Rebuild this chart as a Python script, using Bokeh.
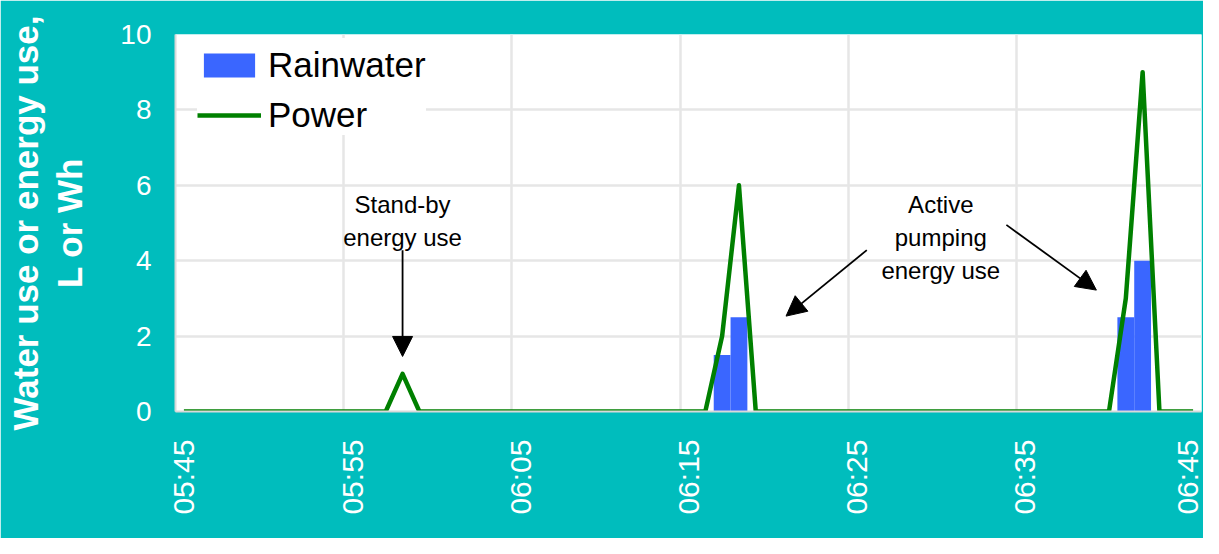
from bokeh.plotting import figure
from bokeh.models import (Range1d, FixedTicker, Legend, LegendItem, Arrow, NormalHead, Label)
from bokeh.embed import file_html
from bokeh.resources import INLINE

# ---- data -------------------------------------------------------------
minutes = list(range(61))  # 05:45 ... 06:45, one point per minute
tick_minutes = [0, 10, 20, 30, 40, 50, 60]
tick_labels = ["05:45", "05:55", "06:05", "06:15", "06:25", "06:35", "06:45"]

rainwater = [0.0] * 61
rainwater[32] = 1.5
rainwater[33] = 2.5
rainwater[56] = 2.5
rainwater[57] = 4.0

power = [0.0] * 61
power[13] = 1.0
power[32] = 2.0
power[33] = 6.0
power[56] = 3.0
power[57] = 9.0

y_ticks = [0, 2, 4, 6, 8, 10]

# ---- styling ----------------------------------------------------------
TEAL = "#00BDBD"
BLUE = "#3A66FF"
GREEN = "#008000"
GRID = "#E6E6E6"
FONT = "Liberation Sans"

p = figure(width=1203, height=538, output_backend="svg", toolbar_location=None,
           x_range=Range1d(-0.5, 60.5), y_range=Range1d(0, 10),
           min_border_left=175, min_border_right=2, min_border_top=34, min_border_bottom=127)
p.border_fill_color = TEAL
p.background_fill_color = "white"
p.outline_line_color = None

bars = p.vbar(x=minutes, top=rainwater, width=1.0, fill_color=BLUE, line_color=None)
ln = p.line(minutes, power, line_width=4.5, line_color=GREEN, line_join="round")

# axes
xa = p.xaxis[0]
xa.ticker = FixedTicker(ticks=tick_minutes)
xa.major_label_overrides = {m: t for m, t in zip(tick_minutes, tick_labels)}
xa.major_label_orientation = 3.14159265 / 2
xa.major_label_text_font = FONT
xa.major_label_text_font_size = "30px"
xa.major_label_text_color = "white"
xa.major_label_standoff = 28
xa.major_tick_out = 0
xa.major_tick_in = 0
xa.minor_tick_out = 0
xa.minor_tick_in = 0
xa.axis_line_color = "#D9D9D9"
xa.axis_line_width = 2

ya = p.yaxis[0]
ya.ticker = FixedTicker(ticks=y_ticks)
ya.major_label_text_font = FONT
ya.major_label_text_font_size = "28px"
ya.major_label_text_color = "white"
ya.major_label_standoff = 24
ya.major_tick_out = 0
ya.major_tick_in = 0
ya.minor_tick_out = 0
ya.minor_tick_in = 0
ya.axis_line_color = "#D9D9D9"
ya.axis_line_width = 2
ya.axis_label = "Water use or energy use,\nL or Wh"
ya.axis_label_text_font = FONT
ya.axis_label_text_font_size = "35px"
ya.axis_label_text_font_style = "bold"
ya.axis_label_text_color = "white"
ya.axis_label_text_line_height = 1.13
ya.axis_label_standoff = 28

# grids
p.xgrid.ticker = FixedTicker(ticks=[m - 0.5 for m in tick_minutes[:-1]])
p.xgrid.grid_line_color = GRID
p.xgrid.grid_line_width = 2.5
p.ygrid.ticker = FixedTicker(ticks=y_ticks)
p.ygrid.grid_line_color = GRID
p.ygrid.grid_line_width = 2.5

# legend
legend = Legend(items=[LegendItem(label="Rainwater", renderers=[bars]),
                       LegendItem(label="Power", renderers=[ln])],
                location=(22, 276))
legend.background_fill_color = "white"
legend.background_fill_alpha = 1.0
legend.border_line_color = None
legend.label_text_font = FONT
legend.label_text_font_size = "35px"
legend.label_text_color = "black"
legend.glyph_width = 64
legend.glyph_height = 30
legend.label_height = 30
legend.spacing = 10
legend.padding = 9
legend.label_standoff = 7
legend.title = " "
legend.title_text_font_size = "2px"
legend.title_standoff = 5
p.add_layout(legend)

# annotations
ann_font = "24px"
for txt, x, y in [("Stand-by", 13.0, 5.5), ("energy use", 13.0, 4.62),
                  ("Active", 45.0, 5.5), ("pumping", 45.0, 4.62), ("energy use", 45.0, 3.74)]:
    p.add_layout(Label(x=x, y=y, text=txt, text_align="center", text_baseline="middle",
                       text_font=FONT, text_font_size=ann_font, text_color="black"))

for x0, y0, x1, y1 in [(13.0, 4.28, 13.0, 1.46),
                       (40.6, 4.28, 35.8, 2.53),
                       (48.9, 4.95, 54.25, 3.22)]:
    p.add_layout(Arrow(x_start=x0, y_start=y0, x_end=x1, y_end=y1, line_width=1.8,
                       line_color="black",
                       end=NormalHead(size=20, fill_color="black", line_color="black")))

open("out.html", "w").write(file_html(p, INLINE))
